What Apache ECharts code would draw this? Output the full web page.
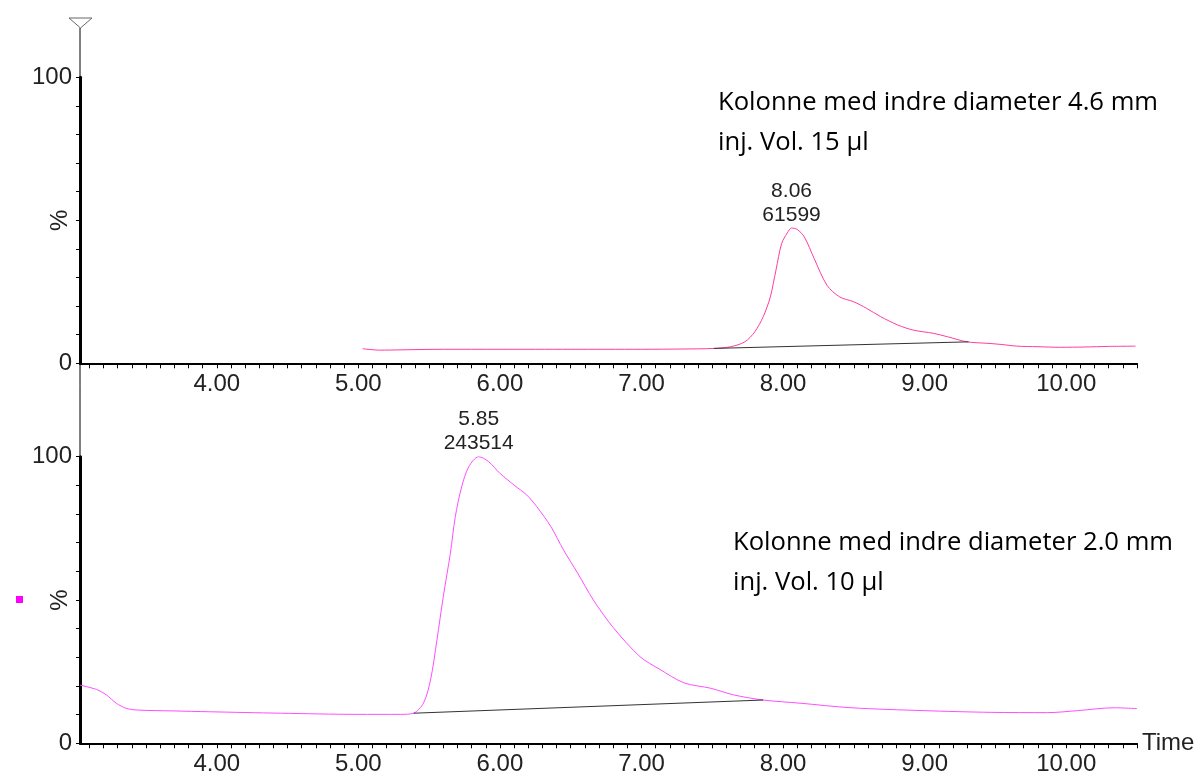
<!DOCTYPE html>
<html>
<head>
<meta charset="utf-8">
<script src="https://cdn.jsdelivr.net/npm/echarts@6/dist/echarts.min.js"></script>
<style>
  html, body { margin: 0; padding: 0; background: #fff; }
  #chart { width: 1200px; height: 773px; }
</style>
</head>
<body>
<div id="chart"></div>
<script>
// top chromatogram: 4.6 mm column, 15 ul
const topTime = [5.03, 5.15, 5.3, 5.6, 6.0, 6.5, 7.0, 7.3, 7.51, 7.63, 7.73, 7.80, 7.86, 7.91, 7.95, 7.99, 8.03, 8.06, 8.10, 8.15, 8.22, 8.31, 8.40, 8.50, 8.59, 8.69, 8.81, 8.92, 9.06, 9.16, 9.30, 9.44, 9.54, 9.65, 9.80, 9.96, 10.13, 10.30, 10.49];
const topPct = [5.1, 4.6, 4.7, 4.9, 4.9, 4.9, 4.9, 5.0, 5.2, 5.8, 7.5, 11.0, 16.3, 23.2, 32.6, 41.9, 45.6, 47.3, 46.8, 44.2, 36.6, 27.3, 23.2, 21.5, 19.2, 16.3, 13.4, 11.6, 10.5, 9.3, 7.5, 7.0, 6.6, 6.0, 5.8, 5.6, 5.7, 5.9, 6.0];
const topBaseTime = [7.51, 9.31];
const topBasePct = [5.2, 7.5];
const topPeak = { time: 8.06, pct: 47.3, area: 61599 };

// bottom chromatogram: 2.0 mm column, 10 ul
const botTime = [3.034, 3.15, 3.22, 3.29, 3.36, 3.44, 3.69, 3.95, 4.45, 4.99, 5.30, 5.39, 5.46, 5.51, 5.555, 5.60, 5.65, 5.685, 5.73, 5.78, 5.85, 5.92, 6.00, 6.10, 6.19, 6.26, 6.36, 6.45, 6.55, 6.66, 6.80, 6.99, 7.13, 7.30, 7.49, 7.65, 7.86, 8.12, 8.48, 8.99, 9.47, 9.87, 10.08, 10.34, 10.50];
const botPct = [20.3, 18.8, 16.9, 14.0, 12.2, 11.6, 11.3, 11.0, 10.5, 10.1, 10.1, 10.5, 14.0, 22.1, 36.0, 51.2, 66.3, 79.1, 89.5, 96.5, 100, 98.3, 94.2, 90.1, 86.6, 82.6, 75.6, 67.4, 59.3, 50.0, 40.4, 30.2, 25.8, 21.1, 19.2, 16.9, 15.1, 14.0, 12.4, 11.4, 10.8, 10.7, 11.4, 12.4, 12.1];
const botBaseTime = [5.39, 7.86];
const botBasePct = [10.5, 15.1];
const botPeak = { time: 5.85, pct: 100, area: 243514 };

const timeLabels = [4, 5, 6, 7, 8, 9, 10];
const pctLabels = [0, 100];

const zip = (xs, ys) => xs.map((x, i) => [x, ys[i]]);

const minorTicks = [];
for (let k = 31; k <= 105; k++) minorTicks.push(k / 10);

const labelFont = { fontFamily: 'Liberation Sans', color: '#222' };

function xAxisFor(i, withName) {
  return {
    type: 'value', gridIndex: i, min: 3.034, max: 10.5,
    axisLine: { show: true, onZero: false, lineStyle: { color: '#000', width: 2 } },
    axisTick: { show: true, length: 5, customValues: minorTicks, lineStyle: { color: '#000' } },
    axisLabel: { customValues: timeLabels, margin: 9, fontSize: 24, ...labelFont, formatter: v => v.toFixed(2) },
    splitLine: { show: false },
    name: withName ? 'Time' : '', nameLocation: 'end', nameGap: 5, nameMoveOverlap: false,
    nameTextStyle: { fontSize: 24, ...labelFont }
  };
}

function yAxisFor(i) {
  return {
    type: 'value', gridIndex: i, min: 0, max: 100, interval: 10,
    axisLine: { show: true, lineStyle: { color: '#000', width: 3 } },
    axisTick: { show: true, length: 4, lineStyle: { color: '#000' } },
    axisLabel: { customValues: pctLabels, margin: 8, fontSize: 24, ...labelFont },
    splitLine: { show: false },
    name: '%', nameLocation: 'middle', nameGap: 8, nameMoveOverlap: false,
    nameTextStyle: { fontSize: 24, ...labelFont }
  };
}

function peakMark(p) {
  return {
    symbol: 'circle', symbolSize: 0,
    data: [{ coord: [p.time, p.pct] }],
    label: {
      show: true, position: 'top', distance: 1,
      formatter: p.time.toFixed(2) + '\n' + p.area,
      fontSize: 21, lineHeight: 24, ...labelFont
    }
  };
}

const noteStyle = { fontFamily: 'Open Sans', fontSize: 25.6, fill: '#000', textVerticalAlign: 'alphabetic' };

const chart = echarts.init(document.getElementById('chart'));
chart.setOption({
  animation: false,
  backgroundColor: '#fff',
  grid: [
    { left: 80, top: 77.3, width: 1057, height: 286, outerBoundsMode: 'none', containLabel: false },
    { left: 80, top: 456.7, width: 1057, height: 286.6, outerBoundsMode: 'none', containLabel: false }
  ],
  xAxis: [xAxisFor(0, false), xAxisFor(1, true)],
  yAxis: [yAxisFor(0), yAxisFor(1)],
  graphic: [
    { type: 'line', shape: { x1: 80, y1: 28, x2: 80, y2: 743 }, style: { stroke: '#000', lineWidth: 1 }, z: 1 },
    { type: 'polygon', shape: { points: [[69, 18], [92, 18], [80.5, 28]] }, style: { stroke: '#666', fill: '#fff', lineWidth: 1 } },
    { type: 'rect', shape: { x: 16, y: 596, width: 7, height: 7 }, style: { fill: '#ff00ff' } },
    { type: 'text', x: 718, y: 90, style: { text: 'Kolonne med indre diameter 4.6 mm', ...noteStyle } },
    { type: 'text', x: 718, y: 130, style: { text: 'inj. Vol. 15 µl', ...noteStyle } },
    { type: 'text', x: 733, y: 530, style: { text: 'Kolonne med indre diameter 2.0 mm', ...noteStyle } },
    { type: 'text', x: 733, y: 570, style: { text: 'inj. Vol. 10 µl', ...noteStyle } }
  ],
  series: [
    {
      type: 'line', xAxisIndex: 0, yAxisIndex: 0, data: zip(topTime, topPct),
      smooth: 0.3, showSymbol: false, lineStyle: { color: '#ff3d9e', width: 1 },
      markPoint: peakMark(topPeak)
    },
    {
      type: 'line', xAxisIndex: 0, yAxisIndex: 0, data: zip(topBaseTime, topBasePct),
      showSymbol: false, lineStyle: { color: '#333', width: 1 }
    },
    {
      type: 'line', xAxisIndex: 1, yAxisIndex: 1, data: zip(botTime, botPct),
      smooth: 0.3, showSymbol: false, lineStyle: { color: '#ff4dff', width: 1 },
      markPoint: peakMark(botPeak)
    },
    {
      type: 'line', xAxisIndex: 1, yAxisIndex: 1, data: zip(botBaseTime, botBasePct),
      showSymbol: false, lineStyle: { color: '#333', width: 1 }
    }
  ]
});
</script>
</body>
</html>
